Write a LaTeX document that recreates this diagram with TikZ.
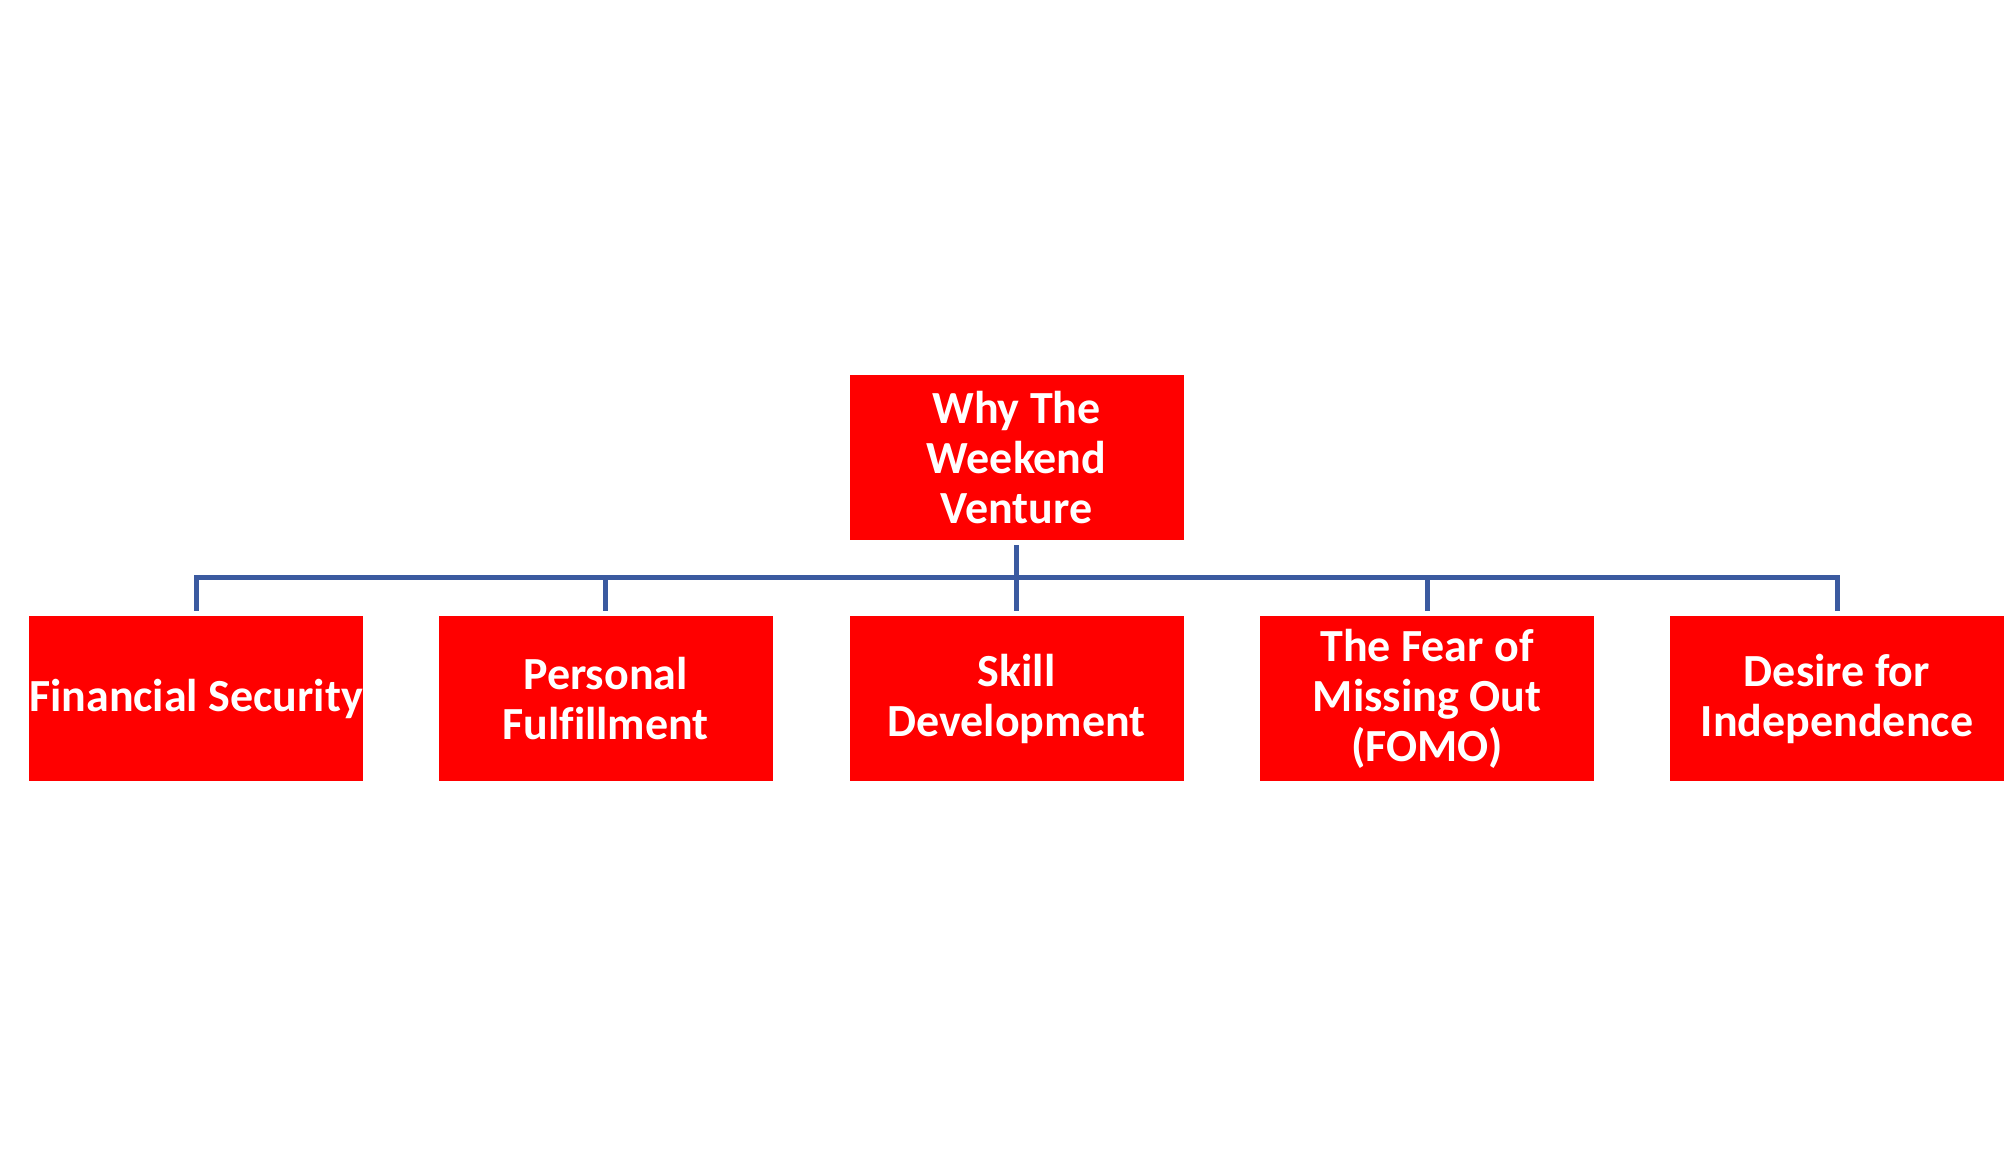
\documentclass[tikz,border=0pt]{standalone}
\usepackage{fontspec}
\setmainfont[Ligatures=NoCommon]{Carlito}
\definecolor{boxred}{RGB}{255,0,0}
\definecolor{linkblue}{RGB}{59,90,160}
\begin{document}
\begin{tikzpicture}[x=1pt,y=-1pt,
  boxnode/.style={fill=boxred, draw=none, minimum width=334pt, minimum height=165pt,
    inner sep=0pt, align=center, text=white,
    font=\fontsize{46}{50}\selectfont\bfseries},
  conn/.style={draw=linkblue, line width=5pt, line join=miter}]
\useasboundingbox (0,0) rectangle (2009,1155);
\node[boxnode] (top) at (1016.5,457.5) {\raisebox{1.5pt}{}Why The\\Weekend\\Venture};
\node[boxnode] (c1) at (196,698.5) {Financial Security};
\node[boxnode] (c2) at (605.5,698.5) {Personal\\Fulfillment};
\node[boxnode] (c3) at (1016.5,698.5) {Skill\\Development};
\node[boxnode] (c4) at (1427,698.5) {The Fear of\\Missing Out\\(FOMO)};
\node[boxnode] (c5) at (1837,698.5) {Desire for\\Independence};
\path (c1.north) ++(0,-38) coordinate (bl);
\path (c5.north) ++(0,-38) coordinate (br);
\draw[conn] ([yshift=5pt]c1.north) -- (bl) -- (br) -- ([yshift=5pt]c5.north);
\draw[conn] (c2.north |- bl) -- ([yshift=5pt]c2.north);
\draw[conn] (c4.north |- bl) -- ([yshift=5pt]c4.north);
\draw[conn] ([yshift=-5pt]top.south) -- ([yshift=5pt]c3.north);
\end{tikzpicture}
\end{document}
